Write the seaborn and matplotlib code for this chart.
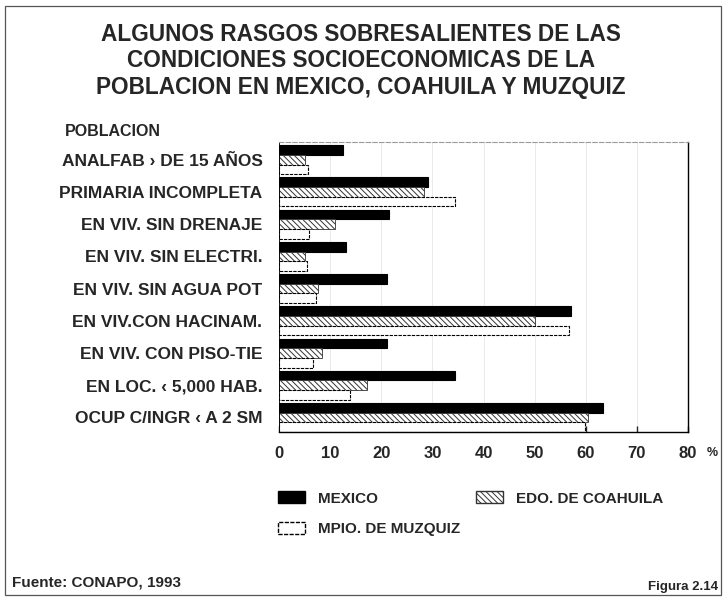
import numpy as np
import pandas as pd
import matplotlib
matplotlib.use('Agg')
import matplotlib.pyplot as plt
from matplotlib.patches import Patch, Rectangle
import seaborn as sns

# Data (percent)
categories = [
    'ANALFAB › DE 15 AÑOS',
    'PRIMARIA INCOMPLETA',
    'EN VIV. SIN DRENAJE',
    'EN VIV. SIN ELECTRI.',
    'EN VIV. SIN AGUA POT',
    'EN VIV.CON HACINAM.',
    'EN VIV. CON PISO-TIE',
    'EN LOC. ‹ 5,000 HAB.',
    'OCUP C/INGR ‹ A 2 SM',
]
series_names = ['MEXICO', 'EDO. DE COAHUILA', 'MPIO. DE MUZQUIZ']
mexico = [12.5, 29.2, 21.5, 13.1, 21.1, 57.1, 21.1, 34.4, 63.4]
coahuila = [5.1, 28.3, 11.0, 5.1, 7.6, 50.1, 8.4, 17.2, 60.5]
muzquiz = [5.7, 34.5, 5.9, 5.5, 7.2, 56.8, 6.6, 13.9, 59.9]
xticks = [0, 10, 20, 30, 40, 50, 60, 70, 80]

df = pd.DataFrame({
    'categoria': categories * 3,
    'serie': [series_names[0]] * 9 + [series_names[1]] * 9 + [series_names[2]] * 9,
    'valor': mexico + coahuila + muzquiz,
})

sns.set_theme(style='white')
plt.rcParams['font.family'] = ['Liberation Sans', 'DejaVu Sans']
plt.rcParams['hatch.linewidth'] = 0.7

fig = plt.figure(figsize=(7.25, 6.02), dpi=100)
ax = fig.add_axes([0.385, 0.2824, 0.564, 0.4817])

sns.barplot(data=df, y='categoria', x='valor', hue='serie', orient='h',
            order=categories, hue_order=series_names,
            palette=['black', 'white', 'white'], width=0.9,
            edgecolor='black', linewidth=0.8, ax=ax, legend=False)

coahuila_hatch = '\\\\\\\\\\\\'

# style bars per series
n = len(categories)
for i, bar in enumerate(ax.patches[:3 * n]):
    s = i // n
    if s == 0:
        bar.set_facecolor('black')
    elif s == 1:
        bar.set_facecolor('white')
        bar.set_hatch(coahuila_hatch)
        bar.set_edgecolor('#333333')
        bar.set_linewidth(0.6)
    else:
        bar.set_facecolor('white')
        bar.set_edgecolor('black')
        bar.set_linestyle((0, (3, 1)))
        bar.set_linewidth(0.8)

ax.set_xlim(0, 80)
ax.set_ylim(n - 0.55, -0.55)
ax.set_xticks(xticks)
ax.set_xticklabels([str(t) for t in xticks], fontsize=12, fontweight='bold')
ax.tick_params(axis='x', direction='in', length=4, width=1, pad=10, bottom=True)
ax.set_yticks(range(n))
ax.set_yticklabels(categories, fontsize=12.5, fontweight='bold')
ax.tick_params(axis='y', length=0, pad=12)
ax.set_xlabel('')
ax.set_ylabel('')
ax.xaxis.grid(True, color='#e6e6e6', linewidth=0.6)
ax.set_axisbelow(True)
for side in ['left', 'right', 'bottom']:
    ax.spines[side].set_color('black')
    ax.spines[side].set_linewidth(1.0)
ax.spines['left'].set_linewidth(0.6)
ax.spines['top'].set_color('#9a9a9a')
ax.spines['top'].set_linestyle((0, (4, 2)))
ax.spines['top'].set_linewidth(0.8)

fig.text(0.99, 0.247, '%', fontsize=9, fontweight='bold', ha='right', va='center')

# title and labels
title = ('ALGUNOS RASGOS SOBRESALIENTES DE LAS\n'
         'CONDICIONES SOCIOECONOMICAS DE LA\n'
         'POBLACION EN MEXICO, COAHUILA Y MUZQUIZ')
fig.text(0.498, 0.899, title, ha='center', va='center', fontsize=16.3,
         fontweight='bold', linespacing=1.2)
fig.text(0.156, 0.782, 'POBLACION', ha='center', va='center', fontsize=11.5, fontweight='bold')

# legend
handles = [
    Patch(facecolor='black', edgecolor='black', label=series_names[0]),
    Patch(facecolor='white', edgecolor='black', linestyle=(0, (3, 1)), label=series_names[2]),
    Patch(facecolor='white', edgecolor='#333333', hatch=coahuila_hatch, label=series_names[1]),
]
fig.legend(handles=handles, ncol=2, loc='upper left', bbox_to_anchor=(0.383, 0.184),
           frameon=False, prop={'weight': 'bold', 'size': 11},
           borderpad=0, borderaxespad=0,
           handlelength=1.8, handleheight=0.85, columnspacing=1.0, labelspacing=1.05,
           handletextpad=0.85)

fig.text(0.016, 0.032, 'Fuente: CONAPO, 1993', fontsize=11, fontweight='bold', va='center')
fig.text(0.99, 0.025, 'Figura 2.14', fontsize=9.5, fontweight='bold', ha='right', va='center')

# outer frame
fig.patches.append(Rectangle((0.007, 0.012), 0.988, 0.978, transform=fig.transFigure,
                             fill=False, edgecolor='#555555', linewidth=0.9))

fig.savefig('out.png', dpi=100)
